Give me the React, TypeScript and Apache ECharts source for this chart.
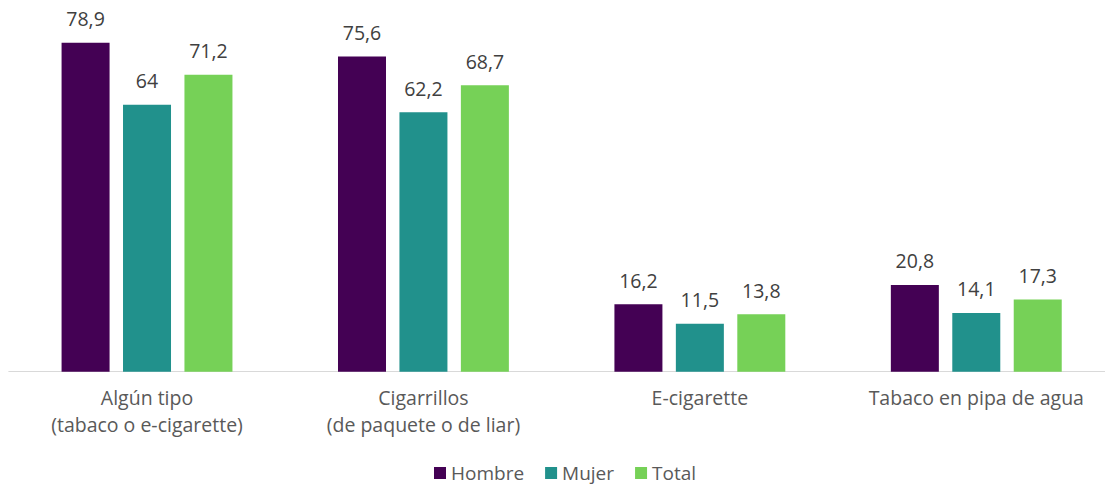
import React, { useEffect, useRef } from "react";
import * as echarts from "echarts";

const categories = [
  "Algún tipo\n(tabaco o e-cigarette)",
  "Cigarrillos\n(de paquete o de liar)",
  "E-cigarette",
  "Tabaco en pipa de agua",
];
const hombre = [78.9, 75.6, 16.2, 20.8];
const mujer = [64, 62.2, 11.5, 14.1];
const total = [71.2, 68.7, 13.8, 17.3];
const seriesNames = ["Hombre", "Mujer", "Total"];
const colors = ["#440154", "#21918C", "#76D157"];

const FONT = "Open Sans";

export default function App() {
  const ref = useRef<HTMLDivElement>(null);
  useEffect(() => {
    if (!ref.current) return;
    const chart = echarts.init(ref.current, null, { renderer: "svg" });
    const fmt = (p: any) => String(p.value).replace(".", ",");
    const mk = (name: string, data: number[], color: string) => ({
      name,
      type: "bar",
      data,
      barWidth: 48,
      barGap: "28%",
      itemStyle: { color },
      label: {
        show: true,
        position: "top",
        distance: 14,
        formatter: fmt,
        color: "#404040",
        fontSize: 19.5,
        fontFamily: FONT,
        lineHeight: 20,
      },
    });
    chart.setOption({
      animation: false,
      backgroundColor: "#ffffff",
      grid: { left: 8.8, right: 0.5, top: 38.1, bottom: 114.3, containLabel: false },
      legend: {
        show: true,
        left: 434,
        top: 463,
        padding: 0,
        itemWidth: 12,
        itemHeight: 12,
        itemGap: 21,
        icon: "rect",
        textStyle: {
          color: "#595959",
          fontSize: 19,
          lineHeight: 20,
          fontFamily: FONT,
          padding: [0, 0, 0, 0],
        },
        data: seriesNames,
      },
      xAxis: {
        type: "category",
        data: categories,
        axisLine: { show: true, lineStyle: { color: "#D9D9D9", width: 1 } },
        axisTick: { show: false },
        axisLabel: {
          color: "#595959",
          fontSize: 19.5,
          fontFamily: FONT,
          lineHeight: 27,
          margin: 12,
          interval: 0,
        },
      },
      yAxis: {
        type: "value",
        min: 0,
        max: 80,
        show: false,
        splitLine: { show: false },
      },
      series: [
        mk(seriesNames[0], hombre, colors[0]),
        mk(seriesNames[1], mujer, colors[1]),
        mk(seriesNames[2], total, colors[2]),
      ],
    });
    return () => chart.dispose();
  }, []);
  return (
    <div
      style={{
        position: "absolute",
        left: 0,
        top: 0,
        width: 1105,
        height: 486,
        overflow: "hidden",
        background: "#ffffff",
      }}
    >
      <div ref={ref} style={{ width: 1115, height: 486 }} />
    </div>
  );
}
